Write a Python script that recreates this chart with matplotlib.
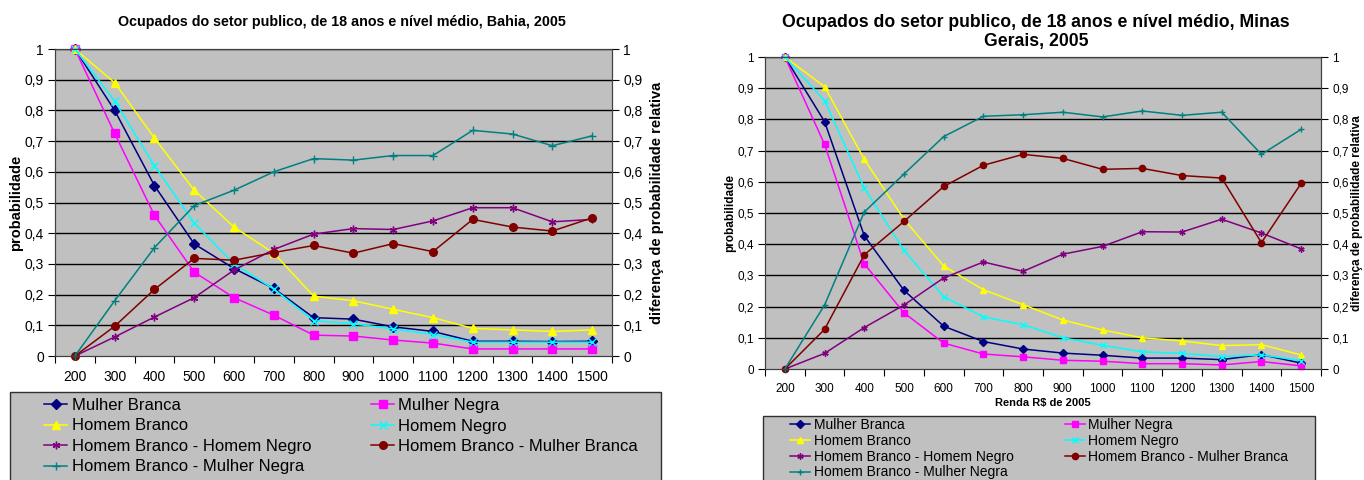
import matplotlib
matplotlib.use("Agg")
import matplotlib.pyplot as plt
from matplotlib.patches import Rectangle
from matplotlib.ticker import FixedLocator, NullFormatter, FixedFormatter

# Income brackets (R$ de 2005)
renda = [200, 300, 400, 500, 600, 700, 800, 900, 1000, 1100, 1200, 1300, 1400, 1500]

# Bahia, 2005
ba_mulher_branca = [1.0, 0.80, 0.555, 0.365, 0.285, 0.22, 0.125, 0.12, 0.095, 0.08, 0.048, 0.048, 0.047, 0.048]
ba_mulher_negra = [1.0, 0.725, 0.458, 0.273, 0.19, 0.133, 0.068, 0.065, 0.052, 0.042, 0.023, 0.023, 0.023, 0.023]
ba_homem_branco = [1.0, 0.89, 0.71, 0.54, 0.42, 0.335, 0.195, 0.18, 0.152, 0.125, 0.09, 0.085, 0.08, 0.085]
ba_homem_negro = [1.0, 0.83, 0.62, 0.433, 0.30, 0.218, 0.115, 0.105, 0.088, 0.07, 0.045, 0.045, 0.045, 0.045]
ba_hb_hn = [0.0, 0.062, 0.127, 0.19, 0.28, 0.347, 0.397, 0.415, 0.412, 0.44, 0.483, 0.483, 0.437, 0.445]
ba_hb_mb = [0.0, 0.097, 0.217, 0.318, 0.312, 0.337, 0.36, 0.335, 0.366, 0.34, 0.445, 0.42, 0.407, 0.45]
ba_hb_mn = [0.0, 0.18, 0.353, 0.49, 0.54, 0.60, 0.643, 0.638, 0.653, 0.653, 0.735, 0.723, 0.685, 0.717]

# Minas Gerais, 2005
mg_mulher_branca = [1.0, 0.793, 0.427, 0.252, 0.137, 0.088, 0.064, 0.051, 0.044, 0.035, 0.035, 0.03, 0.046, 0.019]
mg_mulher_negra = [1.0, 0.72, 0.337, 0.18, 0.083, 0.048, 0.039, 0.028, 0.025, 0.017, 0.017, 0.013, 0.024, 0.01]
mg_homem_branco = [1.0, 0.905, 0.672, 0.48, 0.33, 0.254, 0.206, 0.157, 0.125, 0.1, 0.09, 0.075, 0.078, 0.045]
mg_homem_negro = [1.0, 0.86, 0.58, 0.38, 0.232, 0.167, 0.142, 0.1, 0.076, 0.055, 0.05, 0.04, 0.045, 0.027]
mg_hb_hn = [0.0, 0.05, 0.133, 0.205, 0.292, 0.343, 0.313, 0.368, 0.393, 0.44, 0.439, 0.48, 0.436, 0.385]
mg_hb_mb = [0.0, 0.127, 0.366, 0.473, 0.585, 0.653, 0.688, 0.675, 0.64, 0.643, 0.62, 0.612, 0.405, 0.595]
mg_hb_mn = [0.0, 0.205, 0.503, 0.625, 0.745, 0.81, 0.815, 0.823, 0.808, 0.827, 0.813, 0.823, 0.688, 0.768]

nomes = ["Mulher Branca", "Mulher Negra", "Homem Branco", "Homem Negro",
         "Homem Branco - Homem Negro", "Homem Branco - Mulher Branca",
         "Homem Branco - Mulher Negra"]

# colour, marker for each series (Excel default palette)
estilos = [
    ("#000080", "D"),
    ("#FF00FF", "s"),
    ("#FFFF00", "^"),
    ("#00FFFF", "x"),
    ("#800080", (6, 2, 0)),
    ("#800000", "o"),
    ("#008080", "+"),
]

W, H = 1364, 480
plt.rcParams["font.family"] = "Liberation Sans"
fig = plt.figure(figsize=(W / 100, H / 100), dpi=100)


def fx(px):
    return px / W


def fy(py):
    return 1 - py / H


def painel(box, series, titulo, fs_tick, fs_lab, ms, title_xy, fs_title, ylab_x):
    left, top, right, bottom = box
    ax = fig.add_axes([fx(left), fy(bottom), (right - left) / W, (bottom - top) / H])
    ax.set_facecolor("#C0C0C0")
    x = list(range(len(renda)))
    linhas = []
    for (cor, mk), ys, nome in zip(estilos, series, nomes):
        (ln,) = ax.plot(x, ys, color=cor, marker=mk, markersize=ms, lw=1.1,
                        markeredgewidth=1.0, label=nome, clip_on=False, zorder=3)
        linhas.append(ln)
    ax.set_xlim(-0.5, len(renda) - 0.5)
    ax.set_ylim(0, 1)
    yt = [i / 10 for i in range(11)]
    ylabels = ["0"] + [f"0,{i}" for i in range(1, 10)] + ["1"]
    ax.set_yticks(yt)
    ax.set_yticklabels(ylabels, fontsize=fs_tick)
    for v in yt[1:]:
        ax.axhline(v, color="black", lw=1.0, zorder=1)
    # category boundaries as tick marks, labels in the middle
    ax.xaxis.set_major_locator(FixedLocator([i - 0.5 for i in range(len(renda) + 1)]))
    ax.xaxis.set_major_formatter(NullFormatter())
    ax.xaxis.set_minor_locator(FixedLocator(x))
    ax.xaxis.set_minor_formatter(FixedFormatter([str(r) for r in renda]))
    ax.tick_params(axis="x", which="minor", length=0, pad=10, labelsize=fs_tick)
    ax.tick_params(axis="x", which="major", length=5, color="black")
    ax.tick_params(axis="y", length=5, pad=3)
    for s in ax.spines.values():
        s.set_color("#404040")
    ax.set_ylabel("probabilidade", fontweight="bold", fontsize=fs_lab)
    ax.yaxis.set_label_coords(fx(ylab_x[0]), fy((top + bottom) / 2),
                              transform=fig.transFigure)

    ax2 = ax.twinx()
    ax2.set_ylim(0, 1)
    ax2.set_yticks(yt)
    ax2.set_yticklabels(ylabels, fontsize=fs_tick)
    ax2.tick_params(axis="y", length=5, pad=3)
    for s in ax2.spines.values():
        s.set_color("#404040")
    ax2.set_ylabel("diferença de probabilidade relativa", fontweight="bold",
                   fontsize=fs_lab)
    ax2.yaxis.set_label_coords(fx(ylab_x[1]), fy((top + bottom) / 2),
                               transform=fig.transFigure)
    for lab in (ax.yaxis.label, ax2.yaxis.label):
        lab.set_va("center")

    fig.text(fx(title_xy[0]), fy(title_xy[1]), titulo, ha="center", va="center",
             fontweight="bold", fontsize=fs_title, linespacing=1.15)
    return ax, linhas


ax_ba, l_ba = painel((55, 49, 612, 356),
                     [ba_mulher_branca, ba_mulher_negra, ba_homem_branco, ba_homem_negro,
                      ba_hb_hn, ba_hb_mb, ba_hb_mn],
                     "Ocupados do setor publico, de 18 anos e nível médio, Bahia, 2005",
                     10, 10.5, 5.5, (342, 22), 10.3, (16, 657))

ax_mg, l_mg = painel((765, 57, 1321, 369),
                     [mg_mulher_branca, mg_mulher_negra, mg_homem_branco, mg_homem_negro,
                      mg_hb_hn, mg_hb_mb, mg_hb_mn],
                     "Ocupados do setor publico, de 18 anos e nível médio, Minas\nGerais, 2005",
                     8.5, 8.5, 4.5, (1036, 32), 12.7, (730, 1357))
ax_mg.set_xlabel("Renda R$ de 2005", fontweight="bold", fontsize=8, labelpad=2)

# legends: Excel fills row by row, matplotlib column by column
ordem = [0, 2, 4, 6, 1, 3, 5]


def legenda(linhas, caixa, origem, fs, spacing, colsp, hlen):
    left, top, right, bottom = caixa
    fig.patches.append(Rectangle((fx(left), fy(bottom)), (right - left) / W,
                                 (bottom - top) / H, transform=fig.transFigure,
                                 facecolor="#C0C0C0", edgecolor="#303030", lw=1.0,
                                 zorder=0))
    fig.legend([linhas[i] for i in ordem], [nomes[i] for i in ordem],
               loc="upper left", ncol=2, bbox_to_anchor=(fx(origem[0]), fy(origem[1])),
               bbox_transform=fig.transFigure, prop={"size": fs}, frameon=False,
               borderaxespad=0, borderpad=0, handlelength=hlen, handletextpad=0.25,
               labelspacing=spacing, columnspacing=colsp)


legenda(l_ba, (10, 392, 661, 490), (44, 398), 12, 0.33, 3.6, 1.4)
legenda(l_mg, (763, 416, 1315, 490), (790, 418), 10, 0.13, 3.7, 1.45)

fig.savefig("out.png", dpi=100, facecolor="white")
